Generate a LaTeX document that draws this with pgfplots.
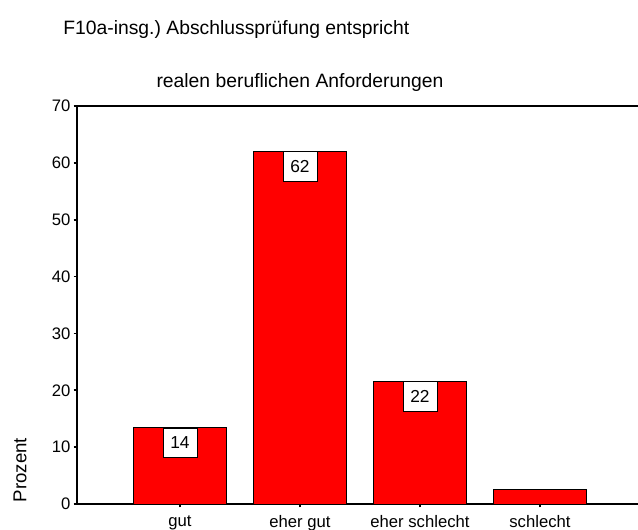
\documentclass[border=0pt]{standalone}
\usepackage{pgfplots}
\pgfplotsset{compat=1.18}
\usepackage{fontspec}
\setmainfont{Liberation Sans}
\begin{document}
\begin{tikzpicture}[x=1pt,y=1pt]
\useasboundingbox (-57.75,-18.75) rectangle (420.75,378);
\begin{axis}[
  at={(0,0)}, anchor=south west,
  scale only axis, width=420.75pt, height=298.5pt,
  axis lines*=left,
  axis line style={line width=0.9pt},
  xmin=-0.858, xmax=3.817, ymin=0, ymax=70,
  xtick={0,1,2,3},
  xticklabels={gut,eher gut,eher schlecht,schlecht},
  ytick={0,10,...,70},
  tick align=outside,
  major tick length=2.5pt,
  tick style={line width=1.2pt, black},
  /pgf/number format/assume math mode=true,
  tick label style={font=\fontsize{12.5}{14}\selectfont},
  yticklabel style={xshift=1pt},
  xticklabel style={yshift=-2.5pt},
  clip=false,
]
\addplot[ybar, bar width=0.77, fill=red, draw=black, line width=0.6pt]
  coordinates {(0,13.4) (1,62.0) (2,21.6) (3,2.6)};
\addplot[only marks, mark=none, point meta=explicit symbolic,
  nodes near coords,
  every node near coord/.style={anchor=north, fill=white, draw=black, line width=0.6pt,
    minimum width=25.5pt, minimum height=22pt, inner sep=0pt,
    font=\fontsize{13}{15}\selectfont, yshift=0pt}]
  coordinates {(0,13.4) [14] (1,62.0) [62] (2,21.6) [22]};
\draw[line width=0.9pt] (rel axis cs:0,1) -- (rel axis cs:1,1);
\end{axis}
\node[anchor=west, inner sep=0pt, font=\fontsize{14.5}{16}\selectfont] at (-10.5,355.5) {F10a-insg.)\ Abschlussprüfung entspricht};
\node[font=\fontsize{14.5}{16}\selectfont] at (167.25,315.75) {realen beruflichen Anforderungen};
\node[rotate=90, font=\fontsize{14}{16}\selectfont] at (-42.75,25.5) {Prozent};
\end{tikzpicture}
\end{document}
